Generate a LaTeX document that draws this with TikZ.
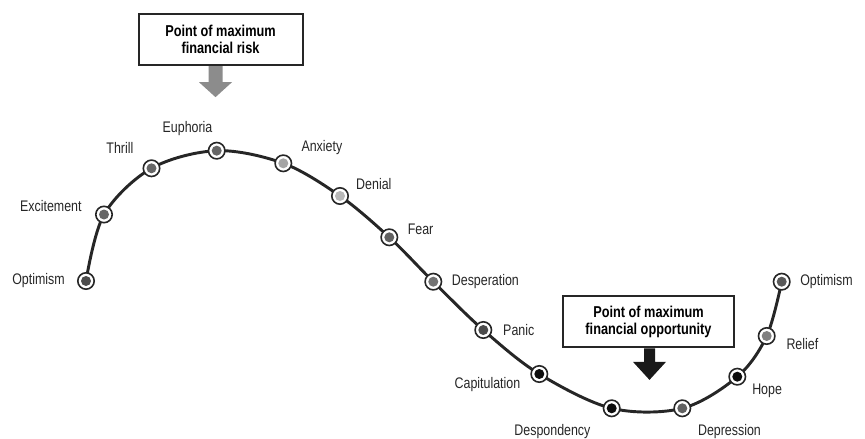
\documentclass[tikz,border=0pt]{standalone}
\usepackage{fontspec}
\setmainfont{Liberation Sans}[FakeStretch=0.81]
\pgfdeclarelayer{background}
\pgfsetlayers{background,main}

\begin{document}
\begin{tikzpicture}[x=0.75pt, y=-0.75pt,
phase/.style={circle, draw=black!85, line width=1.2pt, fill=white, inner sep=0pt, minimum size=12.3pt,
  path picture={\fill[#1] (path picture bounding box.center) circle (3.75pt);}},
every label/.style={font=\fontsize{11.5}{13}\selectfont, text=black!85, inner sep=0pt},
callout/.style={draw=black!85, line width=1.5pt, fill=white, align=center, inner sep=0pt,
  font=\fontsize{11.8}{12.5}\selectfont\bfseries, minimum height=38.5pt},
cycle line/.style={line width=2.2pt, black!85}]
\useasboundingbox (0,0) rectangle (865,439);
\node[phase=black!70, label={[label distance=9pt]left:Optimism}] (opt1) at (86,281) {};
\node[phase=black!60, label={[label distance=10pt]173:Excitement}] (excite) at (104,214.5) {};
\node[phase=black!60, label={[label distance=10.5pt]141:Thrill}] (thrill) at (151.5,168.3) {};
\node[phase=black!60, label={[label distance=5pt]105:Euphoria}] (euph) at (216.7,150.7) {};
\node[phase=black!35, label={[label distance=8pt]24:Anxiety}] (anx) at (283.3,163.3) {};
\node[phase=black!28, label={[label distance=6pt]20:Denial}] (denial) at (340,196) {};
\node[phase=black!62, label={[label distance=7pt]7:Fear}] (fear) at (389.3,237.3) {};
\node[phase=black!55, label={[label distance=7pt]right:Desperation}] (desp) at (433.3,281.7) {};
\node[phase=black!70, label={[label distance=8pt]right:Panic}] (panic) at (483.3,330) {};
\node[phase=black!95, label={[label distance=7.5pt]189:Capitulation}] (capit) at (539.3,374) {};
\node[phase=black!95, label={[label distance=13pt]217:Despondency}] (despond) at (611.7,408.3) {};
\node[phase=black!62, label={[label distance=10pt]314:Depression}] (depress) at (682.3,408.3) {};
\node[phase=black!95, label={[label distance=5.5pt]334:Hope}] (hope) at (737.3,376.7) {};
\node[phase=black!50, label={[label distance=8pt]354:Relief}] (relief) at (766.7,336) {};
\node[phase=black!65, label={[label distance=7pt]right:Optimism}] (opt2) at (781.7,281.7) {};
\begin{pgfonlayer}{background}
\draw[cycle line] plot[smooth, tension=0.55] coordinates {(opt1.center) (excite.center) (thrill.center)
  (euph.center) (anx.center) (denial.center) (fear.center) (desp.center) (panic.center) (capit.center)
  (despond.center) (depress.center) (hope.center) (relief.center) (opt2.center)};
\end{pgfonlayer}
% the two call-outs
\node[callout, minimum width=123pt] (risk) at (220.5,39.5) {Point of maximum\\financial risk};
\node[callout, minimum width=128pt] (chance) at (648.5,321.7) {Point of maximum\\financial opportunity};
\fill[black!45] ([xshift=-3.75pt]risk.south) ++(-7,0) -- ++(0,16) -- ++(-9.5,0) -- ++(16.5,15)
  -- ++(16.5,-15) -- ++(-9.5,0) -- ++(0,-16) -- cycle;
\fill[black!90] ([xshift=0.75pt]chance.south) ++(-5.5,0) -- ++(0,13.5) -- ++(-11,0) -- ++(16.5,18)
  -- ++(16.5,-18) -- ++(-11,0) -- ++(0,-13.5) -- cycle;
\end{tikzpicture}
\end{document}
